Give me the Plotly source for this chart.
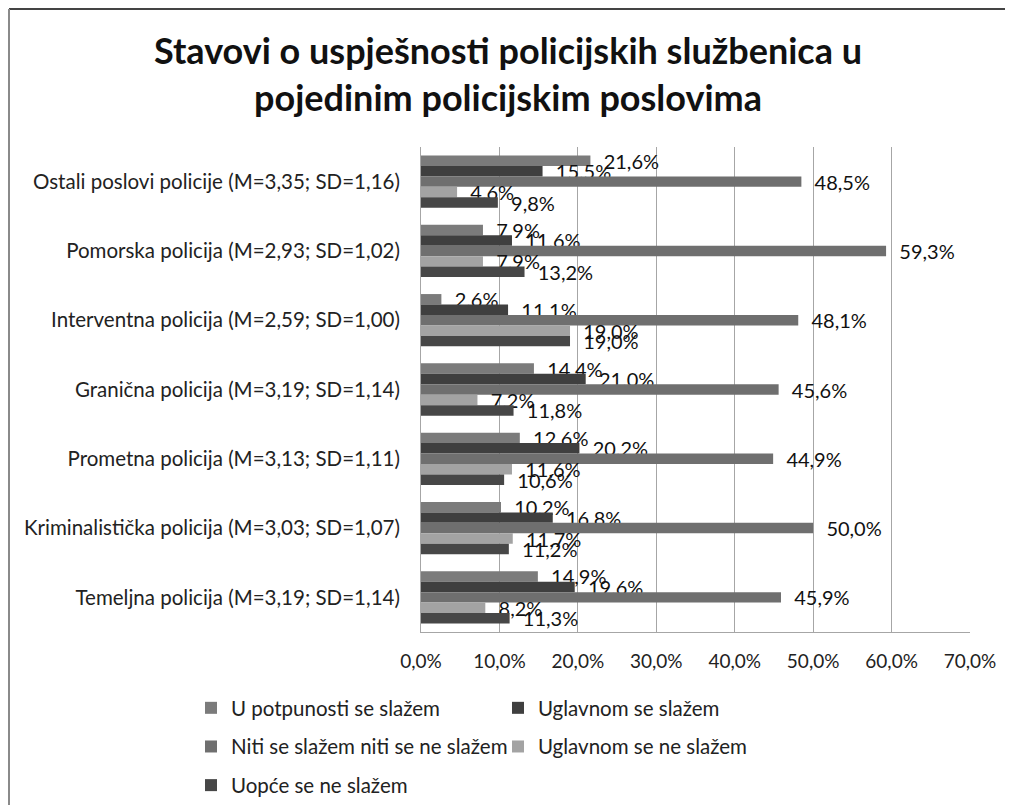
import plotly.graph_objects as go

# kategorije (odozgo prema dolje)
categories = [
    "Ostali poslovi policije (M=3,35; SD=1,16)",
    "Pomorska policija (M=2,93; SD=1,02)",
    "Interventna policija (M=2,59; SD=1,00)",
    "Granična policija (M=3,19; SD=1,14)",
    "Prometna policija (M=3,13; SD=1,11)",
    "Kriminalistička policija (M=3,03; SD=1,07)",
    "Temeljna policija (M=3,19; SD=1,14)",
]

series_names = [
    "U potpunosti se slažem",
    "Uglavnom se slažem",
    "Niti se slažem niti se ne slažem",
    "Uglavnom se ne slažem",
    "Uopće se ne slažem",
]

u_potpunosti = [21.6, 7.9, 2.6, 14.4, 12.6, 10.2, 14.9]
uglavnom_da = [15.5, 11.6, 11.1, 21.0, 20.2, 16.8, 19.6]
niti_niti = [48.5, 59.3, 48.1, 45.6, 44.9, 50.0, 45.9]
uglavnom_ne = [4.6, 7.9, 19.0, 7.2, 11.6, 11.7, 8.2]
uopce_ne = [9.8, 13.2, 19.0, 11.8, 10.6, 11.2, 11.3]

values = [u_potpunosti, uglavnom_da, niti_niti, uglavnom_ne, uopce_ne]
colors = ["#7b7b7b", "#3f3f3f", "#6f6f6f", "#a3a3a3", "#474747"]
legend_ids = ["legend", "legend2", "legend", "legend2", "legend"]

FONT = "Lato"

# stranica ima 8px margine (body), pa je slika 1005x797
OFF = 8
W, H = 1013 - OFF, 805 - OFF
# plot: x 421..970, y 147..632 (pikseli stranice)
L, R, T, B = 421 - OFF, W - (970 - OFF), 147 - OFF, H - (632 - OFF)
pw, ph = W - L - R, H - T - B


def px_x(x):
    return (x - L) / pw


def px_y(y):
    return (H - B - y) / ph


fig = go.Figure()

for name, vals, col, lg in zip(series_names, values, colors, legend_ids):
    fig.add_trace(
        go.Bar(
            y=categories,
            x=vals,
            name=name,
            orientation="h",
            marker=dict(color=col, line=dict(width=0)),
            text=vals,
            texttemplate="\u00a0\u00a0%{x:.1f}%",
            textposition="outside",
            textfont=dict(family=FONT, size=20, color="#111111"),
            constraintext="none",
            cliponaxis=False,
            legend=lg,
            legendgroup=name,
        )
    )

legend_style = dict(
    orientation="v",
    xref="container",
    yref="container",
    xanchor="left",
    yanchor="top",
    tracegroupgap=9,
    font=dict(family=FONT, size=20.5, color="#222222"),
    bgcolor="rgba(0,0,0,0)",
)

fig.update_layout(
    width=W,
    height=H,
    barmode="group",
    bargap=0.245,
    bargroupgap=0,
    separators=", ",
    plot_bgcolor="white",
    paper_bgcolor="white",
    font=dict(family=FONT, size=20, color="#222222"),
    margin=dict(l=L, r=R, t=T, b=B, autoexpand=False),
    title=dict(
        text="Stavovi o uspješnosti policijskih službenica u<br>pojedinim policijskim poslovima",
        x=(508 - OFF) / W,
        xref="container",
        xanchor="center",
        yref="container",
        y=1 - 56 / H,
        yanchor="top",
        font=dict(family=FONT, size=36, color="#111111", weight="bold"),
    ),
    legend=dict(legend_style, x=(191 - OFF) / W, y=1 - (688 - OFF) / H),
    legend2=dict(legend_style, x=(498 - OFF) / W, y=1 - (688 - OFF) / H),
)

fig.update_xaxes(
    range=[0, 70],
    dtick=10,
    tickformat=".1f",
    ticksuffix="%",
    showgrid=True,
    gridcolor="#a6a6a6",
    gridwidth=1,
    zeroline=False,
    showline=True,
    linecolor="#a6a6a6",
    linewidth=1,
    ticks="",
    ticklabelstandoff=12,
    tickfont=dict(family=FONT, size=19, color="#222222"),
    automargin=False,
    fixedrange=True,
)

fig.update_yaxes(
    autorange="reversed",
    showgrid=False,
    zeroline=False,
    showline=True,
    linecolor="#a6a6a6",
    linewidth=1,
    ticks="",
    ticklabelstandoff=16,
    tickfont=dict(family=FONT, size=20.5, color="#222222"),
    automargin=False,
    fixedrange=True,
)

# okvir slike (gornja i lijeva linija)
fig.add_shape(type="line", xref="paper", yref="paper",
              x0=px_x(1), x1=px_x(W), y0=px_y(1), y1=px_y(1),
              line=dict(color="#444444", width=2))
fig.add_shape(type="line", xref="paper", yref="paper",
              x0=px_x(1), x1=px_x(1), y0=px_y(1), y1=px_y(H),
              line=dict(color="#8a8a8a", width=2))

fig.write_html("out.html")
